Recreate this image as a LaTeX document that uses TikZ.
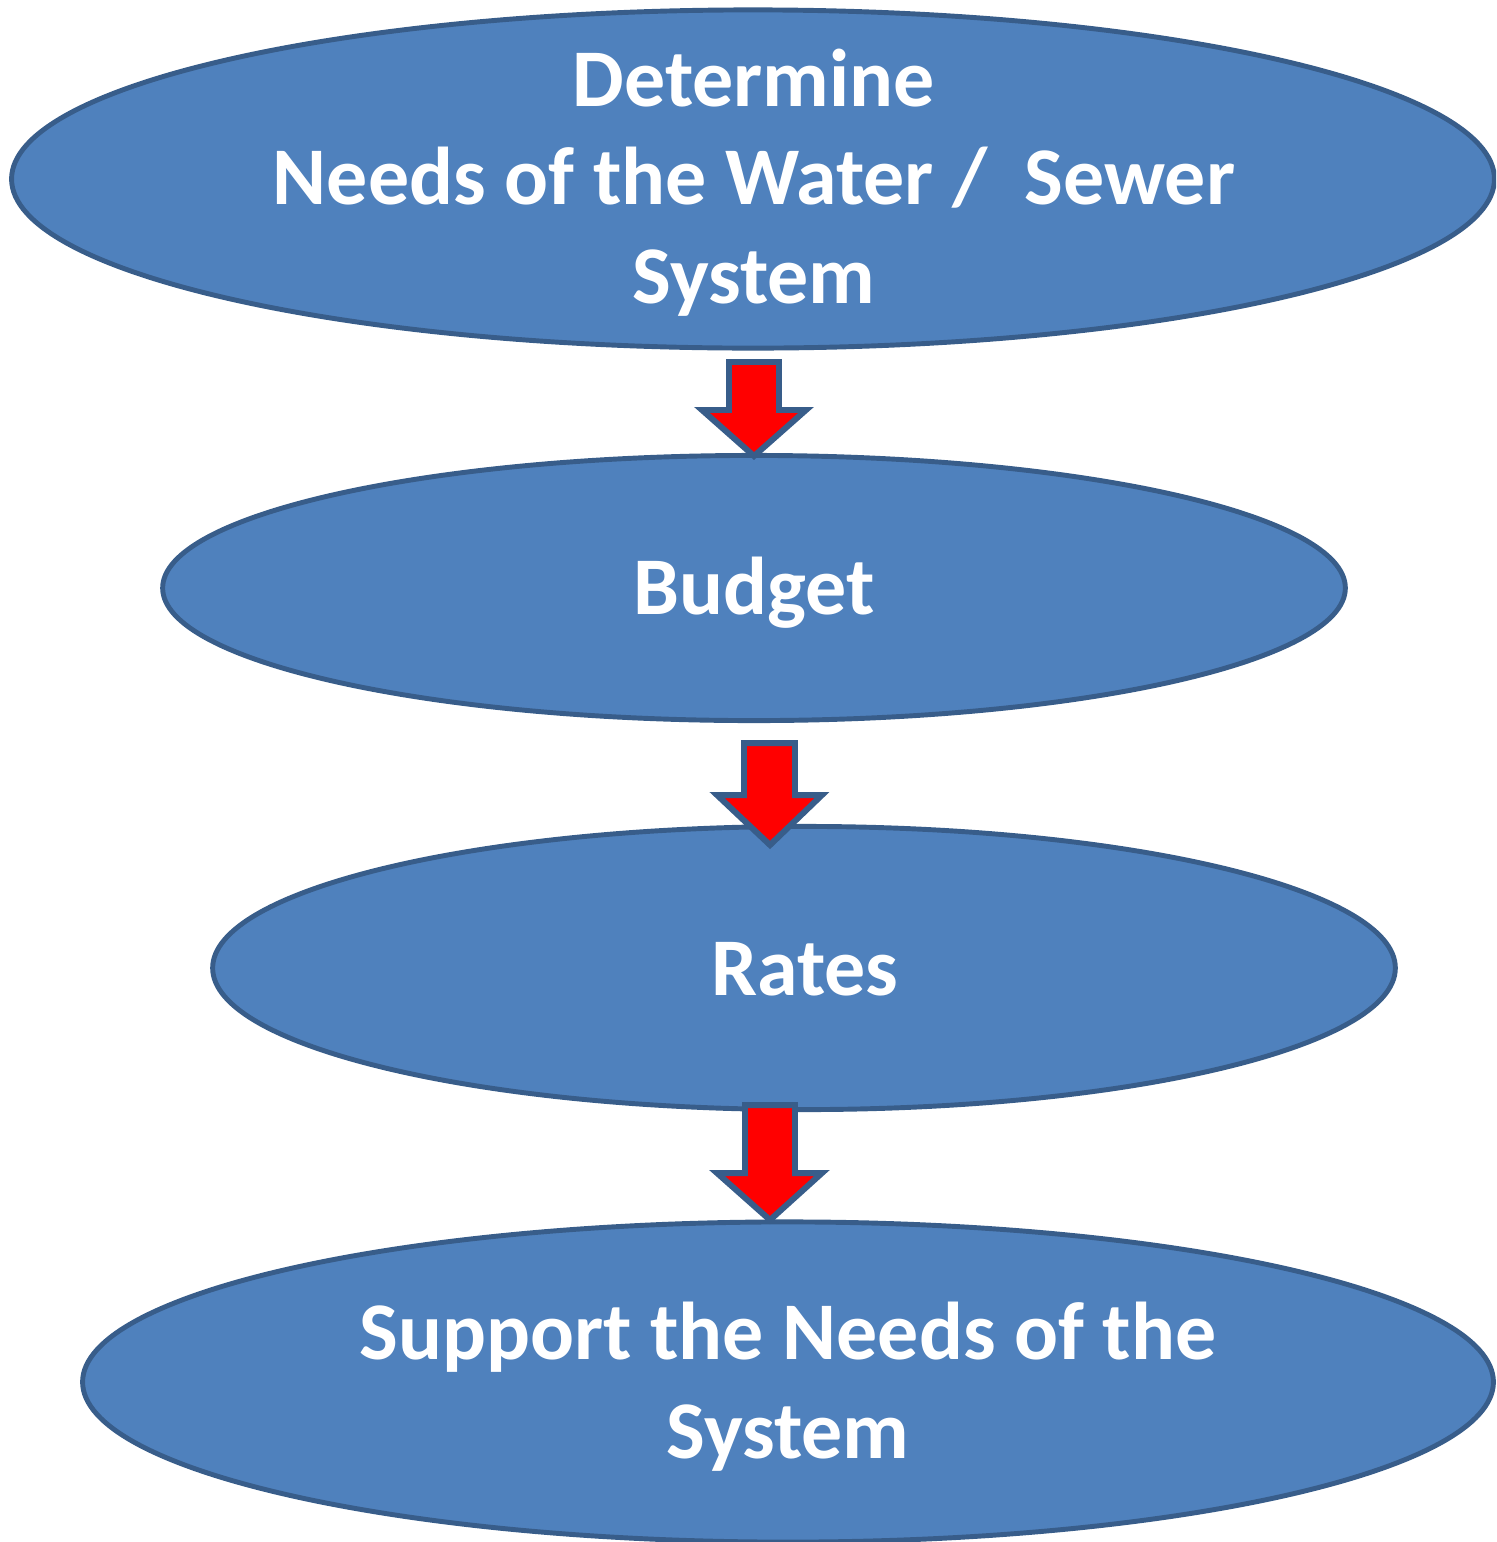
\documentclass[tikz,border=0pt]{standalone}
\usepackage{fontspec}
\setmainfont{Carlito}
\usetikzlibrary{shapes.geometric}
\definecolor{ellfill}{HTML}{4F81BD}
\definecolor{ellline}{HTML}{385D8A}
\tikzset{
  stage/.style={ellipse, draw=ellline, fill=ellfill, line width=1.4pt, inner sep=0pt},
  stagetext/.style={text=white, font=\fontsize{23.3}{27.9}\selectfont\bfseries, align=center, inner sep=0pt, anchor=base},
  downarrow/.style={draw=ellline, fill=red, line width=1.7pt, line join=miter}
}
\begin{document}
\begin{tikzpicture}[x=0.01cm,y=-0.01cm]
\useasboundingbox (0,0) rectangle (1496,1542);
\clip (0,0) rectangle (1496,1542);
\node[stage, minimum width=14.82cm, minimum height=3.38cm] (need) at (753,179) {};
\node[stage, minimum width=11.82cm, minimum height=2.65cm] (budget) at (754,588) {};
\node[stage, minimum width=11.82cm, minimum height=2.83cm] (rates) at (804,968) {};
\node[stage, minimum width=14.10cm, minimum height=3.20cm] (support) at (788,1382) {};
% base anchor of a multi-line node is the baseline of its last line
\node[stagetext] (needtext) at (754,303) {Determine\\Needs of the Water /\ \ Sewer\\System};
\node[stagetext] (budgettext) at (754,614) {Budget};
\node[stagetext] (ratestext) at (805,995) {Rates};
\node[stagetext] (supporttext) at (788,1458) {Support the Needs of the\\System};
% arrows
\path[downarrow] (729,362) -- (779,362) -- (779,410) -- (806,410) -- (754,456) -- (702,410) -- (729,410) -- cycle;
\path[downarrow] (744,743) -- (795,743) -- (795,795) -- (822,795) -- (770,845) -- (717,795) -- (744,795) -- cycle;
\path[downarrow] (745,1105) -- (795,1105) -- (795,1173) -- (822,1173) -- (770,1220) -- (717,1173) -- (745,1173) -- cycle;
\end{tikzpicture}
\end{document}
